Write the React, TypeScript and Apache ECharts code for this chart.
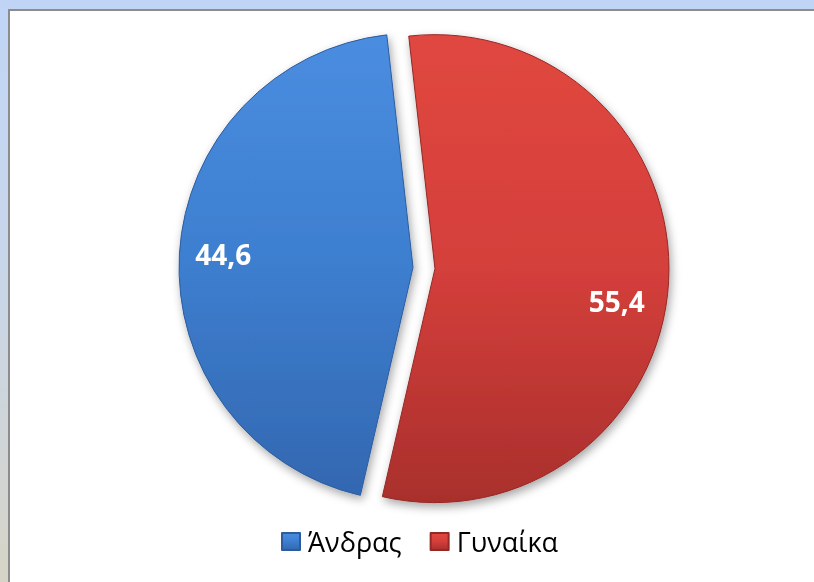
import React, { useEffect, useRef } from "react";
import * as echarts from "echarts";

const categories = ["Άνδρας", "Γυναίκα"];
const values = [44.6, 55.4];
const valueLabels = ["44,6", "55,4"];

const sliceColors = [
  { top: "#4a8de0", mid: "#3d7ecf", bottom: "#3367b0", edge: "#2c5c9e" },
  { top: "#e0473f", mid: "#d43f3b", bottom: "#a92f2c", edge: "#942825" },
];
const labelShift = [
  { dx: -70, dy: -7 },
  { dx: 62, dy: 26 },
];

export default function App() {
  const ref = useRef<HTMLDivElement>(null);
  useEffect(() => {
    if (!ref.current) return;
    const chart = echarts.init(ref.current, undefined, { renderer: "svg" });
    const data = categories.map((name, i) => ({
      name,
      value: values[i],
      selected: true,
      itemStyle: {
        color: {
          type: "linear",
          x: 0,
          y: 0,
          x2: 0,
          y2: 1,
          colorStops: [
            { offset: 0, color: sliceColors[i].top },
            { offset: 0.5, color: sliceColors[i].mid },
            { offset: 1, color: sliceColors[i].bottom },
          ],
        },
        borderColor: sliceColors[i].edge,
        borderWidth: 1,
      },
    }));
    chart.setOption({
      animation: false,
      graphic: [
        {
          type: "rect",
          z: -10,
          silent: true,
          shape: { x: 0, y: 0, width: 814, height: 582 },
          style: {
            fill: {
              type: "linear",
              x: 0,
              y: 0,
              x2: 0,
              y2: 1,
              colorStops: [
                { offset: 0, color: "#c0d5f6" },
                { offset: 0.5, color: "#c9d6e8" },
                { offset: 1, color: "#d6d4c6" },
              ],
            },
          },
        },
        {
          type: "rect",
          z: -9,
          silent: true,
          shape: { x: 9, y: 10, width: 820, height: 590 },
          style: { fill: "#ffffff", stroke: "#8c8c8c", lineWidth: 2 },
        },
      ],
      legend: {
        data: categories,
        left: 276,
        top: 523,
        icon: "rect",
        itemWidth: 18,
        itemHeight: 17,
        itemGap: 28,
        textStyle: {
          fontSize: 27,
          color: "#000000",
          fontFamily: "Open Sans",
          fontWeight: 500,
          padding: [0, 0, 0, 3],
        },
        selectedMode: false,
      },
      series: [
        {
          type: "pie",
          center: [424, 268],
          radius: 234,
          startAngle: 257,
          clockwise: true,
          selectedMode: "multiple",
          selectedOffset: 11,
          data,
          label: {
            show: true,
            position: "inside",
            formatter: (p: any) => valueLabels[p.dataIndex],
            color: "#ffffff",
            fontSize: 28,
            fontWeight: "bold",
            fontFamily: "Open Sans",
          },
          labelLine: { show: false },
          labelLayout: (p: any) => labelShift[p.dataIndex],
          itemStyle: {
            shadowBlur: 10,
            shadowColor: "rgba(0,0,0,0.35)",
            shadowOffsetX: 2,
            shadowOffsetY: 4,
          },
          emphasis: { disabled: true },
        },
      ],
    });
    return () => chart.dispose();
  }, []);
  return (
    <div
      ref={ref}
      style={{ position: "fixed", left: 0, top: 0, width: 814, height: 582 }}
    />
  );
}
